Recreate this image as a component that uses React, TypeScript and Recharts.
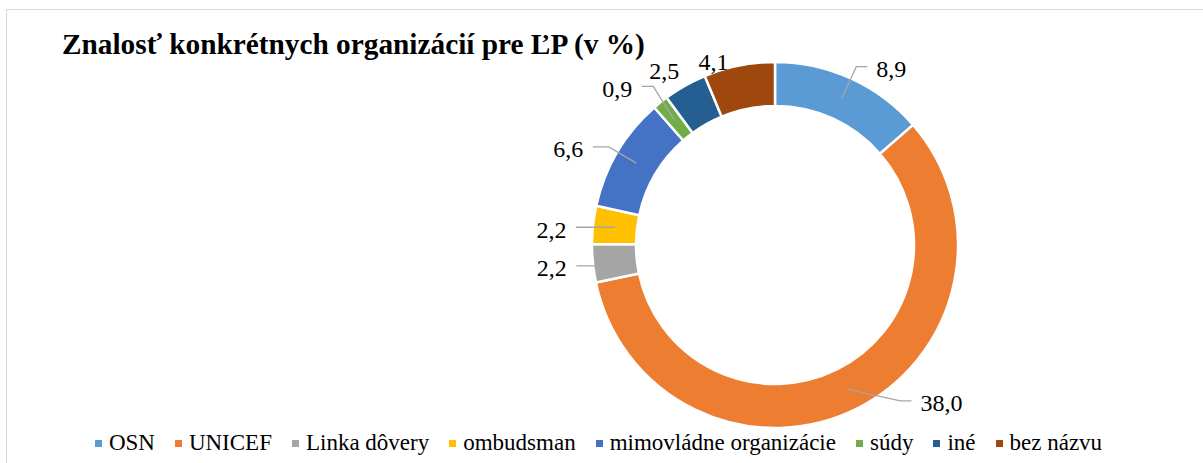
import React from "react";
import { PieChart, Pie, Cell } from "recharts";

const categories = ["OSN", "UNICEF", "Linka dôvery", "ombudsman", "mimovládne organizácie", "súdy", "iné", "bez názvu"];
const values = [8.9, 38.0, 2.2, 2.2, 6.6, 0.9, 2.5, 4.1];
const valueLabels = ["8,9", "38,0", "2,2", "2,2", "6,6", "0,9", "2,5", "4,1"];
const colors = ["#5B9BD5", "#ED7D31", "#A5A5A5", "#FFC000", "#4472C4", "#70AD47", "#255E91", "#9E480E"];
const title = "Znalosť konkrétnych organizácií pre ĽP (v %)";

const data = categories.map((name, i) => ({ name, value: values[i], label: valueLabels[i] }));

// label layout (elbow radius, angle nudge in degrees, horizontal leader length, draw leader)
const labelLayout = [
  { r: 196, nudge: 0, h: 11, leader: true },
  { r: 200, nudge: 12.4, h: 11, leader: true },
  { r: 161, nudge: 1.7, h: 39, leader: true },
  { r: 161, nudge: 0, h: 39, leader: true },
  { r: 193, nudge: 0, h: 16, leader: true },
  { r: 200, nudge: -1.3, h: 11.5, leader: true },
  { r: 198, nudge: -0.5, h: 0, leader: false },
  { r: 188, nudge: 3, h: 0, leader: false },
];

const FONT = "'Liberation Serif', 'Times New Roman', serif";
const RAD = Math.PI / 180;

const renderLabel = (props: any) => {
  const { cx, cy, midAngle, innerRadius, outerRadius, index } = props;
  const cfg = labelLayout[index];
  const mid = (innerRadius + outerRadius) / 2;
  const sx = cx + mid * Math.cos(midAngle * RAD);
  const sy = cy - mid * Math.sin(midAngle * RAD);
  const a = (midAngle + cfg.nudge) * RAD;
  const ex = cx + cfg.r * Math.cos(a);
  const ey = cy - cfg.r * Math.sin(a);
  const right = Math.cos(a) >= 0;
  const label = data[index].label;
  if (!cfg.leader) {
    return (
      <text x={ex} y={ey + 7.5} textAnchor="end" fontFamily={FONT} fontSize={24} fill="#000">
        {label}
      </text>
    );
  }
  const hx = ex + (right ? cfg.h : -cfg.h);
  const tx = hx + (right ? 9 : -9.5);
  return (
    <g>
      <polyline points={`${sx},${sy} ${ex},${ey} ${hx},${ey}`} fill="none" stroke="#A6A6A6" strokeWidth={1.3} />
      <text x={tx} y={ey + 10.5} textAnchor={right ? "start" : "end"} fontFamily={FONT} fontSize={24} fill="#000">
        {label}
      </text>
    </g>
  );
};

export default function App() {
  return (
    <div style={{ position: "absolute", left: 0, top: 0, width: 1203, height: 463, background: "#fff", overflow: "hidden" }}>
      <div
        style={{
          position: "absolute",
          left: 6,
          top: 9,
          width: 1220,
          height: 480,
          border: "1.5px solid #D9D9D9",
          boxSizing: "border-box",
        }}
      />
      <div
        style={{
          position: "absolute",
          left: 62,
          top: 27,
          fontFamily: FONT,
          fontWeight: "bold",
          fontSize: 29.3,
          lineHeight: "34px",
          color: "#000",
          whiteSpace: "nowrap",
        }}
      >
        {title}
      </div>
      <div style={{ position: "absolute", left: 0, top: 0 }}>
        <PieChart width={1203} height={463} margin={{ top: 0, right: 0, bottom: 0, left: 0 }}>
          <Pie
            data={data}
            dataKey="value"
            nameKey="name"
            cx={775}
            cy={245}
            innerRadius={139}
            outerRadius={183}
            startAngle={90}
            endAngle={-270}
            stroke="#FFFFFF"
            strokeWidth={2.5}
            isAnimationActive={false}
            label={renderLabel}
            labelLine={false}
          >
            {data.map((d, i) => (
              <Cell key={d.name} fill={colors[i]} />
            ))}
          </Pie>
        </PieChart>
      </div>
      <div
        style={{
          position: "absolute",
          left: 6,
          top: 428,
          width: 1185,
          display: "flex",
          justifyContent: "center",
          alignItems: "center",
          fontFamily: FONT,
          fontSize: 23,
          lineHeight: "30px",
          color: "#000",
          whiteSpace: "nowrap",
        }}
      >
        {categories.map((c, i) => (
          <div key={c} style={{ display: "flex", alignItems: "center", marginRight: i < categories.length - 1 ? 20 : 0 }}>
            <span style={{ display: "inline-block", width: 7, height: 7, background: colors[i], marginRight: 7 }} />
            <span>{c}</span>
          </div>
        ))}
      </div>
    </div>
  );
}
